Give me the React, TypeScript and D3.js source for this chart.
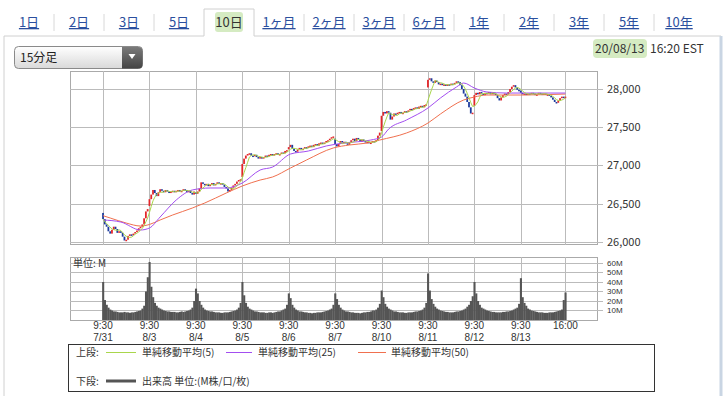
import * as d3 from 'd3'

const tabs = ['1日', '2日', '3日', '5日', '10日', '1ヶ月', '2ヶ月', '3ヶ月', '6ヶ月', '1年', '2年', '3年', '5年', '10年']
const activeTab = '10日'

const dayLabels = ['7/31', '8/3', '8/4', '8/5', '8/6', '8/7', '8/10', '8/11', '8/12', '8/13']
const dayOpens = [26380, 26470, 26650, 26850, 27210, 27350, 27450, 28020, 27780, 27980]

// 15 minute closes, 26 bars per session
const closes0731 = [26300, 26230, 26200, 26140, 26110, 26160, 26200, 26170, 26120, 26140, 26120, 26070, 26020, 26030, 26080, 26100, 26090, 26110, 26130, 26150, 26180, 26200, 26230, 26310, 26400, 26430]
const closes0803 = [26560, 26620, 26680, 26640, 26600, 26650, 26690, 26670, 26650, 26680, 26660, 26640, 26660, 26670, 26650, 26670, 26680, 26660, 26670, 26690, 26680, 26650, 26670, 26640, 26620, 26660]
const closes0804 = [26630, 26660, 26700, 26780, 26760, 26740, 26760, 26730, 26750, 26770, 26740, 26760, 26780, 26760, 26770, 26750, 26720, 26700, 26660, 26680, 26710, 26740, 26760, 26790, 26810, 26820]
const closes0805 = [27020, 27090, 27130, 27150, 27160, 27130, 27120, 27140, 27110, 27100, 27110, 27090, 27110, 27130, 27120, 27140, 27150, 27130, 27150, 27160, 27140, 27150, 27170, 27160, 27190, 27200]
const closes0806 = [27240, 27270, 27220, 27190, 27180, 27210, 27230, 27210, 27220, 27240, 27230, 27250, 27260, 27240, 27270, 27280, 27260, 27290, 27300, 27280, 27300, 27320, 27330, 27350, 27370, 27380]
const closes0807 = [27280, 27250, 27280, 27320, 27300, 27310, 27290, 27270, 27300, 27330, 27350, 27320, 27360, 27340, 27310, 27340, 27320, 27300, 27310, 27290, 27300, 27320, 27310, 27330, 27390, 27430]
const closes0810 = [27650, 27700, 27680, 27710, 27690, 27600, 27640, 27680, 27670, 27690, 27700, 27680, 27690, 27710, 27700, 27720, 27740, 27730, 27750, 27760, 27740, 27770, 27780, 27760, 27790, 27800]
const closes0811 = [28120, 28140, 28100, 28080, 28110, 28090, 28060, 28070, 28050, 28060, 28040, 28060, 28050, 28070, 28060, 28080, 28100, 28090, 28050, 28000, 27940, 27900, 27830, 27760, 27680, 27690]
const closes0812 = [27920, 27950, 27930, 27960, 27940, 27920, 27950, 27940, 27960, 27930, 27950, 27940, 27920, 27880, 27850, 27890, 27920, 27940, 27930, 27960, 28000, 28030, 28050, 28020, 27990, 27970]
const closes0813 = [27950, 27930, 27940, 27920, 27940, 27930, 27950, 27940, 27920, 27930, 27950, 27940, 27930, 27940, 27920, 27930, 27910, 27890, 27860, 27830, 27820, 27850, 27880, 27900, 27880, 27900]

// volume in millions
const vol0731 = [40, 21, 16, 13, 11, 10, 9, 9, 8.5, 8, 8, 8, 8.5, 8, 8, 7.5, 8, 8, 8.5, 9, 9.5, 10, 12, 15, 30, 45]
const vol0803 = [61, 35, 24, 18, 15, 13, 12, 11, 10, 9.5, 9, 9, 8.5, 8.5, 8.5, 8, 8, 8.5, 9, 8.5, 9, 9.5, 10, 11, 13, 20]
const vol0804 = [33, 28, 20, 16, 13, 11, 10, 9.5, 9, 9, 8.5, 8, 8, 8, 7.5, 7.5, 8, 8, 8, 8.5, 9, 9.5, 10, 11, 13, 18]
const vol0805 = [40, 26, 18, 14, 12, 11, 10, 9, 9, 8.5, 8, 8, 8, 7.5, 7.5, 8, 8, 7.5, 8, 8.5, 9, 9, 10, 11, 12, 16]
const vol0806 = [28, 23, 16, 13, 11, 10, 9, 9, 8.5, 8, 8, 7.5, 7.5, 7, 7.5, 7.5, 8, 8, 8, 8.5, 9, 9.5, 10, 11, 12, 16]
const vol0807 = [28, 22, 16, 13, 11, 10, 9, 9, 8.5, 8, 8, 7.5, 7.5, 7.5, 7, 7.5, 8, 8, 8.5, 8.5, 9, 10, 10, 11, 13, 17]
const vol0810 = [31, 24, 17, 14, 12, 11, 10, 9, 9, 8.5, 8, 8, 8, 7.5, 7.5, 8, 8, 8, 8.5, 9, 9, 9.5, 10, 11, 13, 18]
const vol0811 = [49, 31, 22, 17, 14, 12, 11, 10, 9.5, 9, 8.5, 8.5, 8, 8, 8, 8.5, 9, 9, 9.5, 10, 11, 12, 14, 16, 20, 25]
const vol0812 = [40, 28, 20, 16, 13, 12, 11, 10, 9.5, 9, 8.5, 8.5, 8, 8, 8, 8, 8.5, 8.5, 9, 9, 9.5, 10, 11, 12, 13, 17]
const vol0813 = [44, 24, 18, 15, 12, 11, 10, 9.5, 9, 8.5, 8, 8, 8, 7.5, 7.5, 7.5, 8, 8, 8, 8.5, 9, 9.5, 10, 11, 21, 29]

// moving averages (bar index -> value)
const ma25Bars = [0, 10, 21, 26, 32, 41, 50, 60, 69, 78, 88, 95, 105, 115, 125, 135, 150, 156, 160, 170, 182, 189, 198, 202, 208, 215, 226, 234, 259]
const ma25Values = [26288, 26261, 26157, 26183, 26327, 26549, 26680, 26706, 26706, 26771, 26941, 26980, 27150, 27189, 27255, 27294, 27333, 27372, 27477, 27595, 27751, 27882, 28026, 28078, 28013, 27961, 27947, 27947, 27947]
const ma50Bars = [0, 4, 13, 21, 26, 32, 39, 50, 57, 69, 78, 88, 95, 105, 114, 129, 138, 148, 155, 170, 182, 189, 202, 208, 215, 234, 259]
const ma50Values = [26344, 26314, 26248, 26209, 26229, 26288, 26353, 26444, 26510, 26640, 26732, 26810, 26850, 26967, 27072, 27229, 27268, 27294, 27333, 27425, 27555, 27673, 27856, 27895, 27921, 27921, 27934]

const priceTicks = [26000, 26500, 27000, 27500, 28000]
const volTicks = [10, 20, 30, 40, 50, 60]

const dailyCloses = [closes0731, closes0803, closes0804, closes0805, closes0806, closes0807, closes0810, closes0811, closes0812, closes0813]
const dailyVolumes = [vol0731, vol0803, vol0804, vol0805, vol0806, vol0807, vol0810, vol0811, vol0812, vol0813]

const FONT = "'Noto Sans CJK JP', 'Noto Sans', sans-serif"
const NUM_FONT = "'Liberation Sans', Arial, sans-serif"
const UP = '#e3262a'
const DOWN = '#1d3c9e'

export default function App() {
  const barsPerDay = 26
  const bars = dailyCloses.flatMap((day, d) =>
    day.map((close, j) => ({
      i: d * barsPerDay + j,
      open: j === 0 ? dayOpens[d] : day[j - 1],
      close,
      vol: dailyVolumes[d][j]
    }))
  )
  const lastIdx = bars.length - 1

  const x = d3.scaleLinear().domain([-18.5, 276.7]).range([70, 597])
  const y = d3.scaleLinear().domain([25961, 28235]).range([245, 71])
  const yv = d3.scaleLinear().domain([0, 66.3]).range([320, 257])
  const step = x(1) - x(0)

  const ma5 = bars.map((b, k) => {
    const w = bars.slice(Math.max(0, k - 4), k + 1)
    return { i: b.i, v: d3.mean(w, d => d.close) as number }
  })

  const line = d3.line<{ i: number; v: number }>().x(d => x(d.i)).y(d => y(d.v))
  const smooth = d3.line<{ i: number; v: number }>().x(d => x(d.i)).y(d => y(d.v)).curve(d3.curveMonotoneX)
  const ma25 = ma25Bars.map((i, k) => ({ i, v: ma25Values[k] }))
  const ma50 = ma50Bars.map((i, k) => ({ i, v: ma50Values[k] }))

  const dayStarts = dayLabels.map((_, d) => d * barsPerDay)
  const vLines = [...dayStarts, lastIdx]
  const fmt = d3.format(',')

  const tabCenter = (k: number) => 29 + k * 50
  const activeK = tabs.indexOf(activeTab)

  return (
    <div style={{ position: 'fixed', left: 0, top: 0 }}>
      <svg width={728} height={396} style={{ display: 'block', fontFamily: FONT }}>
        <defs>
          <linearGradient id="dd" x1="0" x2="0" y1="0" y2="1">
            <stop offset="0" stopColor="#ffffff" />
            <stop offset="1" stopColor="#d9d9d9" />
          </linearGradient>
          <linearGradient id="ddb" x1="0" x2="0" y1="0" y2="1">
            <stop offset="0" stopColor="#7a7a7a" />
            <stop offset="1" stopColor="#444" />
          </linearGradient>
        </defs>
        <rect width={728} height={396} fill="#fff" />

        {/* tabs */}
        <path
          d={`M4,396 V36 H${tabCenter(activeK) - 25} V9 H${tabCenter(activeK) + 25} V36 H721 V396`}
          fill="none"
          stroke="#d0d0d0"
        />
        <line x1={721} x2={721} y1={36} y2={396} stroke="#c9d5e3" strokeWidth={3} />
        {tabs.map((t, k) => (
          <g key={t}>
            {t === activeTab ? (
              <>
                <rect x={tabCenter(k) - 14} y={12} width={28} height={20} rx={3} fill="#d5ebc2" />
                <text x={tabCenter(k)} y={27} textAnchor="middle" fontSize={13} fill="#333">{t}</text>
              </>
            ) : (
              <text x={tabCenter(k)} y={27} textAnchor="middle" fontSize={13} fill="#2b4f9e" textDecoration="underline">{t}</text>
            )}
            {k < tabs.length - 1 && k !== activeK && k !== activeK - 1 && (
              <line x1={tabCenter(k) + 25} x2={tabCenter(k) + 25} y1={14} y2={31} stroke="#d8d8d8" />
            )}
          </g>
        ))}

        {/* dropdown */}
        <rect x={14.5} y={46.5} width={128} height={22} rx={4} fill="url(#dd)" stroke="#8a8a8a" />
        <path d="M122,47 H138.5 a4,4 0 0 1 4,4 V64.5 a4,4 0 0 1 -4,4 H122 Z" fill="url(#ddb)" />
        <path d="M128.5,54 L135.5,54 L132,59 Z" fill="#fff" />
        <text x={20} y={62} fontSize={12} fill="#222">15分足</text>

        {/* timestamp */}
        <rect x={593} y={39} width={54} height={19} rx={4} fill="#d5ebc2" />
        <text x={595} y={53} fontSize={12} fill="#333">20/08/13</text>
        <text x={650} y={53} fontSize={12} fill="#333">16:20 EST</text>

        {/* price panel */}
        <rect x={70.5} y={71.5} width={527} height={173} fill="#fff" stroke="#aaa" />
        {priceTicks.map(t => (
          <g key={t}>
            <line x1={70} x2={603} y1={Math.round(y(t)) + 0.5} y2={Math.round(y(t)) + 0.5} stroke="#bbb" />
            <text x={607} y={y(t) + 4} fontSize={11} fill="#333">{fmt(t)}</text>
          </g>
        ))}
        {vLines.map(i => (
          <line key={i} x1={Math.round(x(i)) + 0.5} x2={Math.round(x(i)) + 0.5} y1={71} y2={245} stroke="#bbb" />
        ))}

        {bars.map(b => {
          const top = y(Math.max(b.open, b.close))
          const h = Math.max(1.5, Math.abs(y(b.open) - y(b.close)))
          return (
            <rect
              key={b.i}
              x={x(b.i) - step / 2}
              y={top}
              width={step}
              height={h}
              fill={b.close >= b.open ? UP : DOWN}
            />
          )
        })}

        <path d={smooth(ma50) || ''} fill="none" stroke="#f0704f" strokeWidth={1} />
        <path d={smooth(ma25) || ''} fill="none" stroke="#a34ef0" strokeWidth={1} />
        <path d={line(ma5) || ''} fill="none" stroke="#a9d64c" strokeWidth={1} />

        {/* volume panel */}
        <rect x={70.5} y={257.5} width={527} height={63} fill="#fff" stroke="#aaa" />
        {volTicks.map(t => (
          <g key={t}>
            <line x1={70} x2={603} y1={Math.round(yv(t)) + 0.5} y2={Math.round(yv(t)) + 0.5} stroke="#bbb" />
            <text x={607} y={yv(t) + 3} fontFamily={NUM_FONT} fontSize={8} fill="#333">{t}M</text>
          </g>
        ))}
        {vLines.map(i => (
          <line key={i} x1={Math.round(x(i)) + 0.5} x2={Math.round(x(i)) + 0.5} y1={257} y2={320} stroke="#bbb" />
        ))}
        {bars.map(b => (
          <rect
            key={b.i}
            x={x(b.i) - step / 2}
            y={yv(b.vol)}
            width={step + 0.3}
            height={yv(0) - yv(b.vol)}
            fill="#555"
          />
        ))}
        <text x={73} y={267} fontSize={10} fill="#333">単位: M</text>

        {/* x axis labels */}
        {dayStarts.map((i, d) => (
          <g key={i} fontFamily={NUM_FONT} fontSize={10} fill="#333" textAnchor="middle">
            <text x={x(i)} y={329}>9:30</text>
            <text x={x(i)} y={340.5}>{dayLabels[d]}</text>
          </g>
        ))}
        <text x={x(lastIdx)} y={329} fontFamily={NUM_FONT} fontSize={10} textAnchor="middle" fill="#333">16:00</text>

        {/* legend */}
        <rect x={68.5} y={344.5} width={586} height={47} fill="none" stroke="#333" />
        <text x={76} y={356} fontSize={10} fill="#333">上段:</text>
        <line x1={106} x2={136} y1={352.5} y2={352.5} stroke="#a9d64c" />
        <text x={142} y={356} fontSize={10} fill="#333">単純移動平均(5)</text>
        <line x1={226} x2={252} y1={352.5} y2={352.5} stroke="#a34ef0" />
        <text x={258} y={356} fontSize={10} fill="#333">単純移動平均(25)</text>
        <line x1={358} x2={386} y1={352.5} y2={352.5} stroke="#f0704f" />
        <text x={391} y={356} fontSize={10} fill="#333">単純移動平均(50)</text>
        <text x={76} y={385} fontSize={10} fill="#333">下段:</text>
        <line x1={106} x2={136} y1={381} y2={381} stroke="#555" strokeWidth={3} />
        <text x={142} y={385} fontSize={10} fill="#333">出来高 単位:(M株/口/枚)</text>
      </svg>
    </div>
  )
}
